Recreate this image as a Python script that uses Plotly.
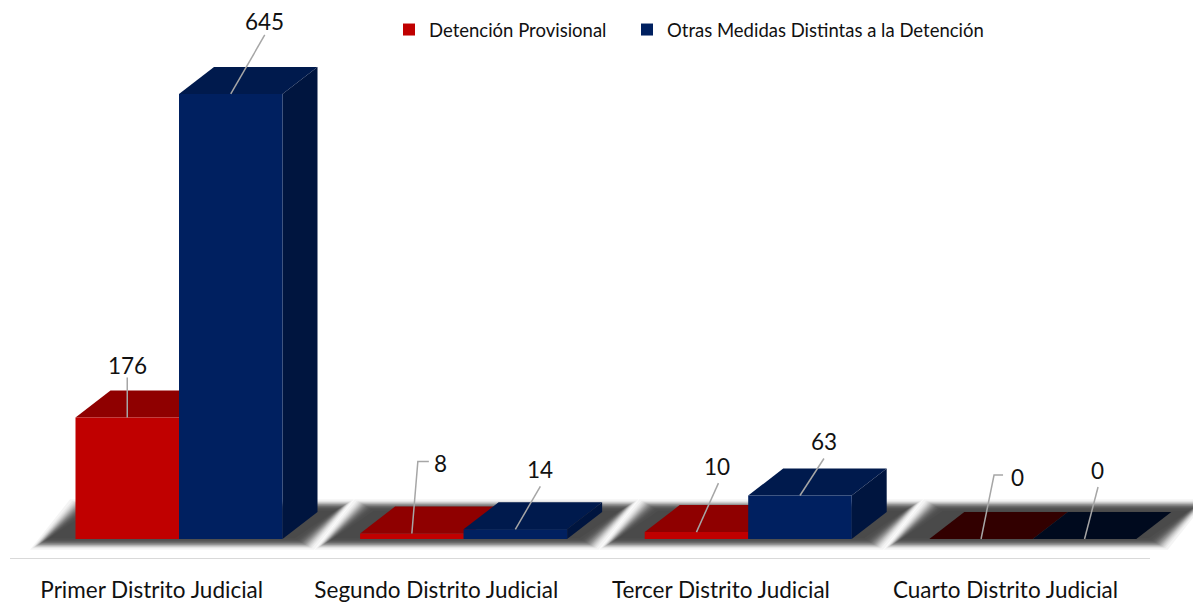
from statistics import NormalDist

import plotly.graph_objects as go

# ---- data ----
categories = ["Primer Distrito Judicial", "Segundo Distrito Judicial",
              "Tercer Distrito Judicial", "Cuarto Distrito Judicial"]
detencion = [176, 8, 10, 0]
otras = [645, 14, 63, 0]
series_names = ["Detención Provisional", "Otras Medidas Distintas a la Detención"]

# ---- style ----
FONT = "Lato"
TEXT = "#111111"
RED, RED_TOP, RED_ZERO = "#C00000", "#8F0000", "#320000"
BLUE, BLUE_TOP, BLUE_SIDE, BLUE_ZERO = "#002060", "#001A4D", "#00153F", "#000A1E"
RED_SIDE = "#7A0000"
LEADER = "#A6A6A6"

# geometry, in pixels of the page; the page body adds an 8 px margin round the figure
PAGE = 8
W, H = 1201 - PAGE, 602 - PAGE
AXIS_PX = 559 - PAGE           # grey rule under the bars
B = H - AXIS_PX
PX_PER_CAT = 284.6
PX_PER_UNIT = 0.69
FIRST_CENTER_PX = 179 - PAGE
BASE_PX = 539 - PAGE
BAR_PX = 103.5
DEPTH_X_PX, DEPTH_Y_PX = 35, 27
TICK_SHIFT_PX = 27.3           # category labels sit left of their groups

x_range = [-FIRST_CENTER_PX / PX_PER_CAT, (W - FIRST_CENTER_PX) / PX_PER_CAT]
y_range = [-(AXIS_PX - BASE_PX) / PX_PER_UNIT, BASE_PX / PX_PER_UNIT]


def ux(px):
    return px / PX_PER_CAT


def uy(px):
    return px / PX_PER_UNIT


bar_w = ux(BAR_PX)
dep_x, dep_y = ux(DEPTH_X_PX), uy(DEPTH_Y_PX)

# label and leader offsets from the front-top centre of each bar, in pixels (right, up)
label_off = {0: [(0, 52), (29, 70), (21, 66), (36, 62)],
             1: [(34, 72), (25, 60), (24, 54), (13, 69)]}
leader_off = {0: [[(0, 40)], [(6, 72), (17, 72)], [(22, 49)], [(13, 64), (22, 64)]],
              1: [[(34, 59)], [(25, 43)], [(24, 37)], [(13.5, 52)]]}

fig = go.Figure()


def poly(xs, ys, color):
    fig.add_trace(go.Scatter(x=xs + xs[:1], y=ys + ys[:1], mode="lines", fill="toself",
                             fillcolor=color, line=dict(width=0, color=color),
                             hoverinfo="skip", showlegend=False, xaxis="x", yaxis="y"))


# depth faces (back layer): top and side of each bar, computed from the values
for s, vals in enumerate([detencion, otras]):
    for c, v in enumerate(vals):
        x0 = c - bar_w if s == 0 else c
        x1 = x0 + bar_w
        if s == 0:
            top, side = (RED_TOP, RED_SIDE) if v else (RED_ZERO, RED_ZERO)
        else:
            top, side = (BLUE_TOP, BLUE_SIDE) if v else (BLUE_ZERO, BLUE_ZERO)
        poly([x0, x1, x1 + dep_x, x0 + dep_x], [v, v, v + dep_y, v + dep_y], top)
        if v:
            poly([x1, x1 + dep_x, x1 + dep_x, x1], [0, dep_y, v + dep_y, v], side)

# front faces on an overlaying axis pair, so that they sit above all depth faces
fig.add_trace(go.Bar(x=list(range(4)), y=detencion, name=series_names[0], legend="legend",
                     marker=dict(color=RED, line=dict(width=0)),
                     xaxis="x2", yaxis="y2", hoverinfo="skip"))
fig.add_trace(go.Bar(x=list(range(4)), y=otras, name=series_names[1], legend="legend2",
                     marker=dict(color=BLUE, line=dict(width=0)),
                     xaxis="x2", yaxis="y2", hoverinfo="skip"))

# leader lines and value labels
lx, ly = [], []
annotations = []
for s, vals in enumerate([detencion, otras]):
    for c, v in enumerate(vals):
        cx = c + (bar_w / 2 if s else -bar_w / 2)
        lx.append(cx)
        ly.append(v)
        for ox, oy in leader_off[s][c]:
            lx.append(cx + ux(ox))
            ly.append(v + uy(oy))
        lx.append(None)
        ly.append(None)
        ox, oy = label_off[s][c]
        annotations.append(dict(x=cx + ux(ox), y=v + uy(oy), text=str(v), showarrow=False,
                                xref="x", yref="y", xanchor="center", yanchor="middle",
                                font=dict(family=FONT, size=22.5, color=TEXT)))
fig.add_trace(go.Scatter(x=lx, y=ly, mode="lines", line=dict(color=LEADER, width=1.5),
                         hoverinfo="skip", showlegend=False, xaxis="x2", yaxis="y2"))

# soft floor shadow under every group: stacked translucent parallelograms whose
# sizes follow a bell-shaped edge profile
shapes = []
SH_LEFT, SH_RIGHT, SH_DROP, SH_TOP, SH_SHEAR = 36, 22, 5, 34, 40
STEPS = 26
SIGMA = 4.6
profile = NormalDist(0, SIGMA)
for c in range(4):
    for i in range(STEPS):
        e = profile.inv_cdf(1 - (i + 0.5) / STEPS)
        xa = c - bar_w - ux(SH_LEFT + e)
        xb = c + bar_w + ux(SH_RIGHT + e)
        y0 = -uy(SH_DROP + e * 0.6)
        y1 = uy(SH_TOP + e * 0.6)
        sh = ux(SH_SHEAR)
        shapes.append(dict(type="path", layer="below", xref="x", yref="y",
                           path=f"M{xa},{y0} L{xb},{y0} L{xb + sh},{y1} L{xa + sh},{y1} Z",
                           fillcolor="rgba(0,0,0,0.042)", line=dict(width=0)))

# grey rule under the groups
shapes.append(dict(type="line", layer="below", xref="x", yref="y",
                   x0=x_range[0] + ux(10 - PAGE), x1=x_range[0] + ux(1150 - PAGE),
                   y0=y_range[0], y1=y_range[0], line=dict(color="#D9D9D9", width=2)))

legend_common = dict(orientation="h", xanchor="left", yanchor="top", bgcolor="rgba(0,0,0,0)",
                     font=dict(family=FONT, size=18.5, color=TEXT))

fig.update_layout(
    width=W, height=H, margin=dict(l=0, r=0, t=0, b=B, pad=0, autoexpand=False),
    paper_bgcolor="white", plot_bgcolor="white",
    barmode="group", bargap=1 - 2 * bar_w, bargroupgap=0,
    shapes=shapes, annotations=annotations, hovermode=False,
    font=dict(family=FONT, color=TEXT),
    xaxis=dict(range=x_range, tickmode="array",
               tickvals=[c - ux(TICK_SHIFT_PX) for c in range(4)], ticktext=categories,
               showgrid=False, zeroline=False, showline=False,
               ticks="", ticklabelstandoff=15, tickfont=dict(family=FONT, size=22.5, color=TEXT)),
    yaxis=dict(range=y_range, visible=False, fixedrange=True),
    xaxis2=dict(range=x_range, overlaying="x", visible=False),
    yaxis2=dict(range=y_range, overlaying="y", visible=False),
    legend=dict(x=(389 - PAGE) / W, y=1 - (11 - PAGE) / AXIS_PX, **legend_common),
    legend2=dict(x=(627 - PAGE) / W, y=1 - (11 - PAGE) / AXIS_PX, **legend_common),
)

fig.write_html("out.html")
